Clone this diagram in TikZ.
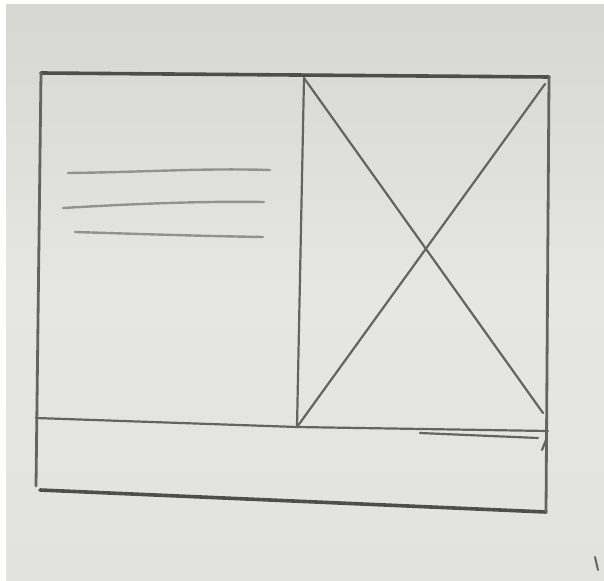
\documentclass[tikz,border=0pt]{standalone}
\usetikzlibrary{calc}
\definecolor{paperTop}{HTML}{D6D6D2}
\definecolor{paperMid}{HTML}{E6E7E4}
\definecolor{paperBot}{HTML}{E2E2E0}
\definecolor{pencilDark}{HTML}{4E4E4E}
\definecolor{pencilMid}{HTML}{646464}
\definecolor{pencilLight}{HTML}{929292}
\tikzset{
  heavy/.style={draw=pencilDark, line width=3.6pt, line cap=round, line join=round},
  medium/.style={draw=pencilMid, line width=2.8pt, line cap=round, line join=round},
  thin/.style={draw=pencilMid, line width=2.2pt, line cap=round},
  textline/.style={draw=pencilLight, line width=2.4pt, line cap=round},
}
\begin{document}
\begin{tikzpicture}[x={(1pt,0)}, y={(0,-1pt)}]
\useasboundingbox (0,0) rectangle (604,580);
\fill[white] (0,0) rectangle (604,580);
\shade[top color=paperTop, bottom color=paperBot, middle color=paperMid] (6,5) rectangle (604,580);
% corners
\coordinate (TL) at (41,73);
\coordinate (TR) at (549,77);
\coordinate (BL) at (36,486);
\coordinate (BR) at (546,512);
\coordinate (BLb) at (40,490);
\coordinate (DT) at (304,78);
\coordinate (DB) at (297,427);
\coordinate (ML) at (36,418);
\coordinate (MR) at (548,431);
\coordinate (XE1) at (543,413);
\coordinate (XS2) at (545,84);
% outer frame
\draw[heavy] (TL) -- (TR);
\draw[medium] (TL) -- (BL);
\draw[heavy] (BLb) -- (BR);
\draw[medium] (TR) -- (BR);
% divider and bottom band line
\draw[thin] (DT) -- (DB);
\draw[thin] (ML) -- (DB) -- (MR);
\draw[thin] (420,433) -- (538,438);
\draw[thin] (542,450) -- (546,440);
% X in image placeholder
\draw[thin] (DT) -- (XE1);
\draw[thin] (XS2) -- (DB);
% text lines
\draw[textline] (68,173) .. controls (150,172) and (200,168) .. (270,170);
\draw[textline] (63,208) .. controls (130,204) and (200,201) .. (264,202);
\draw[textline] (75,232) .. controls (140,234) and (200,236) .. (263,237);
% stray mark
\draw[draw=pencilMid, line width=2pt, line cap=round] (595,557) -- (598,570);
\end{tikzpicture}
\end{document}
